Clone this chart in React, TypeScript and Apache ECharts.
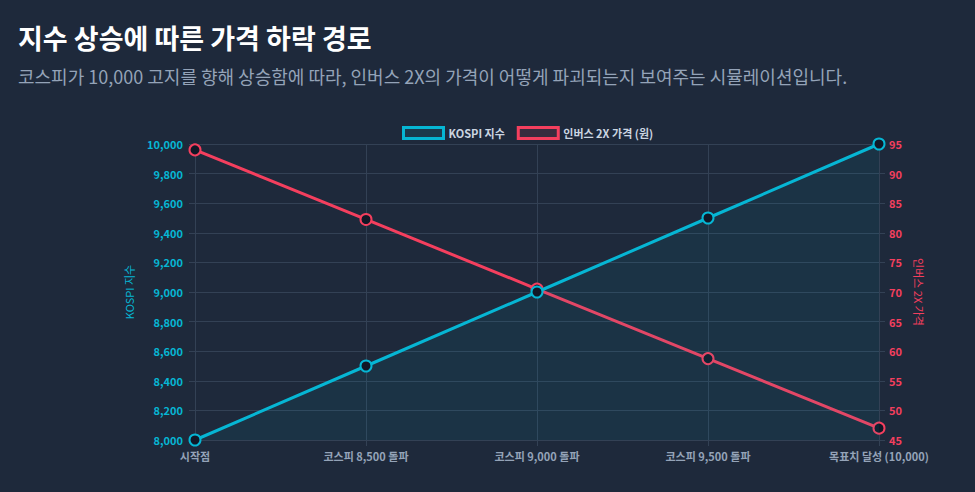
import React, { useEffect, useRef } from "react";
import * as echarts from "echarts";

const categories = ["시작점", "코스피 8,500 돌파", "코스피 9,000 돌파", "코스피 9,500 돌파", "목표치 달성 (10,000)"];
const kospiValues = [8000, 8500, 9000, 9500, 10000];
const inverseValues = [94, 82.25, 70.5, 58.75, 47];

const CYAN = "#06b6d4";
const RED = "#f43f5e";
const BG = "#1e293b";
const GRID = "#334155";
const FONT = "'Noto Sans CJK KR', 'Noto Sans', sans-serif";

export default function App() {
  const ref = useRef<HTMLDivElement>(null);
  useEffect(() => {
    document.body.style.margin = "0";
    document.body.style.background = BG;
    const chart = echarts.init(ref.current!, null, { renderer: "svg" });
    chart.setOption({
      animation: false,
      backgroundColor: BG,
      textStyle: { fontFamily: FONT },
      title: [
        {
          text: "지수 상승에 따른 가격 하락 경로",
          left: 13,
          top: 19,
          textStyle: { color: "#ffffff", fontSize: 27, fontWeight: "bold", fontFamily: FONT },
        },
        {
          text: "코스피가 10,000 고지를 향해 상승함에 따라, 인버스 2X의 가격이 어떻게 파괴되는지 보여주는 시뮬레이션입니다.",
          left: 13,
          top: 62,
          textStyle: { color: "#94a3b8", fontSize: 18, fontWeight: "normal", fontFamily: FONT },
        },
      ],
      legend: {
        left: 397,
        top: 121,
        itemWidth: 40,
        itemHeight: 11,
        itemGap: 12,
        icon: "rect",
        textStyle: { color: "#cbd5e1", fontSize: 11, fontWeight: "bold", fontFamily: FONT },
        data: [
          { name: "KOSPI 지수", itemStyle: { color: "rgba(6,182,212,0.12)", borderColor: CYAN, borderWidth: 3 } },
          { name: "인버스 2X 가격 (원)", itemStyle: { color: "rgba(244,63,94,0.12)", borderColor: RED, borderWidth: 3 } },
        ],
      },
      grid: { left: 195, right: 96, top: 144, bottom: 52 },
      xAxis: {
        type: "category",
        data: categories,
        boundaryGap: false,
        axisLine: { show: true, lineStyle: { color: GRID } },
        axisTick: { show: true, length: 6, lineStyle: { color: GRID } },
        axisLabel: { color: "#94a3b8", fontSize: 11, fontWeight: "bold", margin: 10, fontFamily: FONT },
        splitLine: { show: true, lineStyle: { color: GRID } },
      },
      yAxis: [
        {
          type: "value",
          min: 8000,
          max: 10000,
          interval: 200,
          name: "KOSPI 지수",
          nameLocation: "middle",
          nameGap: 61,
          nameTextStyle: { color: CYAN, fontSize: 11, fontFamily: FONT },
          axisLine: { show: true, lineStyle: { color: GRID } },
          axisTick: { show: true, length: 6, lineStyle: { color: GRID } },
          axisLabel: {
            color: CYAN,
            fontSize: 11,
            fontWeight: "bold",
            margin: 12,
            fontFamily: FONT,
            formatter: (v: number) => v.toLocaleString("en-US"),
          },
          splitLine: { show: true, lineStyle: { color: GRID } },
        },
        {
          type: "value",
          min: 45,
          max: 95,
          interval: 5,
          name: "인버스 2X 가격",
          nameLocation: "middle",
          nameGap: 35,
          nameRotate: -90,
          nameTextStyle: { color: RED, fontSize: 11, fontFamily: FONT },
          axisLine: { show: true, lineStyle: { color: GRID } },
          axisTick: { show: true, length: 6, lineStyle: { color: GRID } },
          axisLabel: { color: RED, fontSize: 11, fontWeight: "bold", margin: 10, fontFamily: FONT },
          splitLine: { show: false },
        },
      ],
      series: [
        {
          name: "인버스 2X 가격 (원)",
          type: "line",
          yAxisIndex: 1,
          data: inverseValues,
          symbol: "circle",
          symbolSize: 11,
          lineStyle: { color: RED, width: 3 },
          itemStyle: { color: "#111827", borderColor: RED, borderWidth: 2 },
          z: 2,
        },
        {
          name: "KOSPI 지수",
          type: "line",
          yAxisIndex: 0,
          data: kospiValues,
          symbol: "circle",
          symbolSize: 11,
          lineStyle: { color: CYAN, width: 3 },
          itemStyle: { color: "#111827", borderColor: CYAN, borderWidth: 2 },
          areaStyle: { color: "rgba(6,182,212,0.1)", origin: "start" },
          z: 3,
        },
      ],
    });
    return () => chart.dispose();
  }, []);
  return <div ref={ref} style={{ width: 975, height: 492 }} />;
}
